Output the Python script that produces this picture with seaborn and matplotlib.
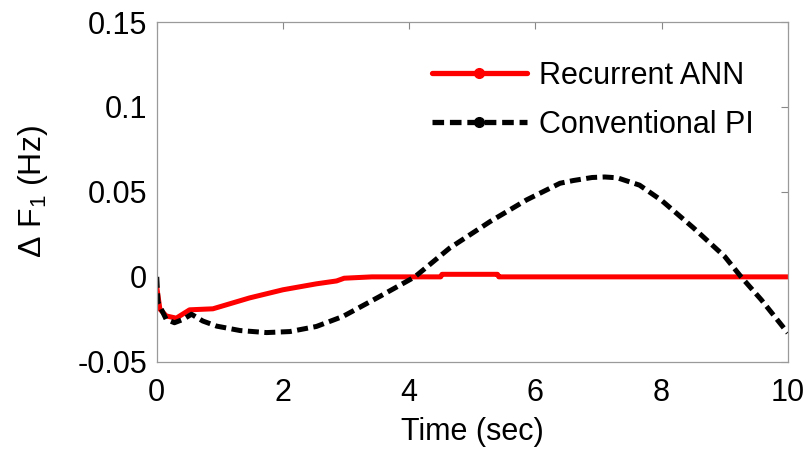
import matplotlib
matplotlib.use("Agg")
import matplotlib.pyplot as plt
from matplotlib.lines import Line2D
import pandas as pd
import seaborn as sns

# Frequency deviation of area 1 after a load step
ann_time = [0.0, 0.05, 0.15, 0.31, 0.52, 0.89, 1.47, 2.0, 2.53, 2.85, 2.97, 3.41, 4.5, 4.52, 5.4, 5.42, 10.0]
ann_dF = [-0.006, -0.019, -0.023, -0.0243, -0.0194, -0.0188, -0.0124, -0.0076, -0.0041, -0.0024,
          -0.0008, 0.0, 0.0, 0.0015, 0.0015, 0.0, 0.0]

pi_time = [0.0, 0.02, 0.15, 0.28, 0.42, 0.55, 0.73, 0.95, 1.32, 1.74, 2.11, 2.53, 2.95, 3.53, 4.09,
           4.64, 5.28, 5.86, 6.39, 6.6, 6.9, 7.1, 7.3, 7.65, 8.0, 8.5, 9.0, 9.26, 9.58, 10.0]
pi_dF = [0.0, -0.015, -0.025, -0.027, -0.025, -0.022, -0.026, -0.029, -0.0316, -0.0328, -0.0322,
         -0.0292, -0.0233, -0.0116, 0.0, 0.0169, 0.0325, 0.0453, 0.0551, 0.0567, 0.0585, 0.0588,
         0.0583, 0.054, 0.045, 0.029, 0.012, 0.0, -0.0135, -0.033]

series_names = ["Recurrent ANN", "Conventional PI"]
x_ticks = [0, 2, 4, 6, 8, 10]
y_ticks = [-0.05, 0, 0.05, 0.1, 0.15]
y_tick_labels = ["-0.05", "0", "0.05", "0.1", "0.15"]

df = pd.concat([
    pd.DataFrame({"t": ann_time, "dF": ann_dF, "controller": series_names[0]}),
    pd.DataFrame({"t": pi_time, "dF": pi_dF, "controller": series_names[1]}),
], ignore_index=True)

sns.set_theme(style="white")
plt.rcParams["font.family"] = ["Liberation Sans", "DejaVu Sans"]
plt.rcParams["mathtext.default"] = "regular"
plt.rcParams["text.color"] = "black"
plt.rcParams["axes.labelcolor"] = "black"

FS = 22
fig = plt.figure(figsize=(8.08, 4.5), dpi=100)
ax = fig.add_axes([0.194, 0.196, 0.781, 0.755])

colors = {series_names[0]: "#ff0000", series_names[1]: "#000000"}
sns.lineplot(data=df, x="t", y="dF", hue="controller", style="controller",
             palette=colors, dashes={series_names[0]: "", series_names[1]: (2.2, 1.1)},
             linewidth=3.6, legend=False, ax=ax, sort=False)

ax.set_xlim(0, 10)
ax.set_ylim(-0.05, 0.15)
ax.set_xticks(x_ticks)
ax.set_xticklabels([str(v) for v in x_ticks])
ax.set_yticks(y_ticks)
ax.set_yticklabels(y_tick_labels)
ax.tick_params(direction="in", length=5, width=0.8, color="#888888",
               top=True, right=True, labelsize=FS, colors="#888888",
               labelcolor="black")
ax.tick_params(axis="x", pad=12)
ax.tick_params(axis="y", pad=7)
for s in ax.spines.values():
    s.set_color("#9a9a9a")
    s.set_linewidth(0.9)

ax.set_xlabel("Time (sec)", fontsize=FS, labelpad=6, color="black")
ax.set_ylabel("Δ F$_1$ (Hz)", fontsize=FS + 1, labelpad=20, color="black")

handles = [
    Line2D([0, 0.5, 1], [0, 0, 0], color="#ff0000", lw=3.8, marker="o", markersize=7, markevery=[1], ls="-"),
    Line2D([0, 0.5, 1], [0, 0, 0], color="#000000", lw=3.8, marker="o", markersize=7, markevery=[1], ls=(0, (2.2, 1.1))),
]
ax.legend(handles, series_names, loc="upper right", bbox_to_anchor=(0.975, 0.94),
          frameon=False, fontsize=FS, handlelength=3.1, handletextpad=0.4,
          labelspacing=0.62, borderaxespad=0.2, labelcolor="black")

fig.savefig("out.png", dpi=100, facecolor="white")
